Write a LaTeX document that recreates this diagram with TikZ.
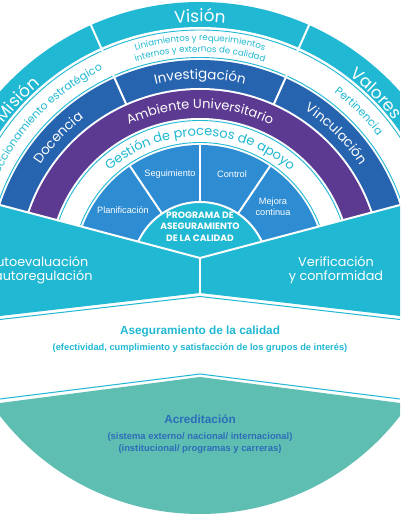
\documentclass[tikz,border=0pt]{standalone}
\usepackage{fontspec}
\usetikzlibrary{decorations.text}
\newfontfamily\arcf{Poppins}
\newfontfamily\sansf{Liberation Sans}
\definecolor{cy}{HTML}{20B8D2}
\definecolor{dblue}{HTML}{2664AF}
\definecolor{purp}{HTML}{5C3A91}
\definecolor{sblue}{HTML}{2D8CD2}
\definecolor{tealf}{HTML}{5FBEB2}
\definecolor{acr}{HTML}{2D6EB9}
\newcommand\fBig{\arcf\fontsize{17}{20}\selectfont\color{white}}
\newcommand\fBand{\arcf\fontsize{13.5}{16}\selectfont\color{white}}
\newcommand\fPur{\arcf\fontsize{13}{16}\selectfont\color{white}}
\newcommand\fGes{\arcf\fontsize{13}{16}\selectfont\color{cy}}
\newcommand\fSmall{\arcf\fontsize{11}{13}\selectfont\color{cy}}
\newcommand\fTiny{\arcf\fontsize{8.7}{10}\selectfont\color{cy}}
\newcommand\arcT[5]{%
  \path[decorate, decoration={text along path, text align=center, text={|#4|#5}}]
    (C) ++(#2+#3:#1) arc[start angle=#2+#3, end angle=#2-#3, radius=#1];}
\tikzset{
  segtext/.style={text=white, font=\sansf\fontsize{9.2}{11}\selectfont, align=center, inner sep=0pt},
  bandtext/.style={text=white, font=\arcf\fontsize{12.8}{14.5}\selectfont, align=center, inner sep=0pt},
  progtext/.style={text=white, font=\arcf\bfseries\fontsize{9.2}{11.5}\selectfont, align=center, inner sep=0pt},
  qtitle/.style={text=cy, font=\sansf\bfseries\fontsize{11.8}{13}\selectfont, inner sep=0pt},
  qsub/.style={text=cy, font=\sansf\bfseries\fontsize{9.3}{10}\selectfont, inner sep=0pt},
  atitle/.style={text=acr, font=\sansf\bfseries\fontsize{11.8}{13}\selectfont, inner sep=0pt},
  asub/.style={text=acr, font=\sansf\bfseries\fontsize{9.4}{12.5}\selectfont, align=center, inner sep=0pt},
  divider/.style={white, line width=2pt},
  ring/.style={cy, line width=0.9pt},
}
\begin{document}
\begin{tikzpicture}[x=1pt,y=1pt]
\useasboundingbox (0,0) rectangle (400,516);
\fill[white] (0,0) rectangle (400,516);
\clip (0,0) rectangle (400,516);
\coordinate (C) at (200,246);
% concentric rings
\begin{scope}
\clip (0,311) -- (200,258) -- (400,311) -- (400,516) -- (0,516) -- cycle;
\fill[cy] (C) circle[radius=268];
\fill[white] (C) circle[radius=243];
\draw[ring] (C) circle[radius=240] (C) circle[radius=212.5];
\fill[dblue] (C) circle[radius=210];
\fill[white] (C) circle[radius=182];
\fill[purp] (C) circle[radius=180];
\fill[white] (C) circle[radius=152];
\draw[ring] (C) circle[radius=149.5] (C) circle[radius=127.5];
\fill[sblue] (C) circle[radius=125];
\foreach \a in {66,114} \draw[divider] (C) ++(\a:181) -- ++(\a:92);
\foreach \a in {56,90,124} \draw[divider] (C) ++(\a:68) -- ++(\a:58);
\fill[cy, draw=white, line width=2pt] (C) circle[radius=68];
\end{scope}
% cyan band
\fill[cy] (0,311) -- (200,258) -- (400,311) -- (400,200) -- (200,223) -- (0,200) -- cycle;
\draw[divider] (0,311) -- (200,258) -- (400,311);
\draw[divider] (200,258) -- (200,223);
\draw[cy, line width=1pt] (0,196.5) -- (200,219.5) -- (400,196.5);
% teal
\begin{scope}
\clip (200,255) circle[radius=253];
\fill[tealf] (0,113) -- (200,139) -- (400,113) -- (400,0) -- (0,0) -- cycle;
\end{scope}
\draw[cy, line width=1pt] (0,117) -- (200,142) -- (400,117);
% arc texts
\arcT{248}{90}{30}{\fBig}{Visión}
\arcT{245}{137}{30}{\fBig}{Misión}
\arcT{245}{45}{30}{\fBig}{Valores}
\arcT{229}{90}{40}{\fTiny}{Liniamientos y requerimientos}
\arcT{218}{90}{40}{\fTiny}{internos y externos de calidad}
\arcT{222.5}{137}{40}{\fSmall}{Direccionamiento estratégico}
\arcT{222.5}{45}{30}{\fSmall}{Pertinencia}
\arcT{191}{90}{35}{\fBand}{Investigación}
\arcT{191}{137}{30}{\fBand}{Docencia}
\arcT{191}{45}{30}{\fBand}{Vinculación}
\arcT{161.5}{90}{50}{\fPur}{Ambiente Universitario}
\arcT{134}{90}{60}{\fGes}{Gestión de procesos de apoyo}
% segment labels
\node[segtext] (seg) at (170,342) {Seguimiento};
\node[segtext] (con) at (232,342) {Control};
\node[segtext] (pla) at (123,306) {Planificación};
\node[segtext] (mej) at (273,309.5) {Mejora\\continua};
\node[progtext] (prog) at (200,289.5) {PROGRAMA DE\\ASEGURAMIENTO\\DE LA CALIDAD};
% band labels
\node[bandtext] (auto) at (38,246) {Autoevaluación\\y autoregulación};
\node[bandtext] (veri) at (336,246) {Verificación\\y conformidad};
% quality
\node[qtitle] (aseg) at (200,185) {Aseguramiento de la calidad};
\node[qsub] (asegs) at (200,168) {(efectividad, cumplimiento y satisfacción de los grupos de interés)};
\node[atitle] (acre) at (200,97) {Acreditación};
\node[asub] (acres) at (200,73) {(sistema externo/ nacional/ internacional)\\(institucional/ programas y carreras)};
\end{tikzpicture}
\end{document}
